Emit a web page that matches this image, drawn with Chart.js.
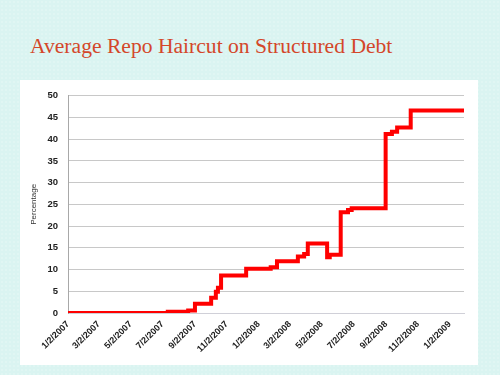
<!DOCTYPE html>
<html>
<head>
<meta charset="utf-8">
<script src="https://cdn.jsdelivr.net/npm/chart.js@4.4.1/dist/chart.umd.min.js"></script>
<style>
  html, body { margin: 0; padding: 0; }
  body {
    width: 500px;
    height: 375px;
    position: relative;
    overflow: hidden;
    background-color: #daf4f1;
    background-image: radial-gradient(rgba(255, 255, 255, 0.55) 0.5px, transparent 0.8px);
    background-size: 4px 4px;
  }
  #title {
    position: absolute;
    left: 30px;
    top: 34px;
    margin: 0;
    font-family: "Liberation Serif", "DejaVu Serif", serif;
    font-weight: normal;
    font-size: 21.6px;
    color: #d4472a;
    white-space: nowrap;
  }
  #panel {
    position: absolute;
    left: 20px;
    top: 80px;
    width: 458px;
    height: 285px;
    background: #ffffff;
  }
</style>
</head>
<body>
<h1 id="title">Average Repo Haircut on Structured Debt</h1>
<div id="panel"><canvas id="haircutChart"></canvas></div>
<script>
const startDate = "1/2/2007";
const endDate = "1/29/2009";

// dates where the haircut changes, and the new level (percent)
const changeDates = [
  "1/2/2007", "7/12/2007", "8/20/2007", "9/2/2007", "10/3/2007", "10/12/2007",
  "10/16/2007", "10/22/2007", "12/9/2007", "1/25/2008", "2/6/2008", "3/17/2008",
  "3/29/2008", "4/5/2008", "5/12/2008", "5/17/2008", "6/7/2008", "6/21/2008",
  "6/28/2008", "9/1/2008", "9/13/2008", "9/23/2008", "10/19/2008", "1/29/2009",
];
const haircutValues = [
  0.0, 0.3, 0.6, 2.1, 3.5, 4.9,
  5.8, 8.6, 10.2, 10.5, 11.9, 13.0,
  13.6, 16.0, 12.8, 13.4, 23.2, 23.7,
  24.1, 41.2, 41.7, 42.7, 46.6, 46.6,
];

const tickLabels = [
  "1/2/2007", "3/2/2007", "5/2/2007", "7/2/2007", "9/2/2007", "11/2/2007",
  "1/2/2008", "3/2/2008", "5/2/2008", "7/2/2008", "9/2/2008", "11/2/2008", "1/2/2009",
];
const yTicks = [0, 5, 10, 15, 20, 25, 30, 35, 40, 45, 50];

function toDay(text) {
  const [m, d, y] = text.split("/").map(Number);
  const [m0, d0, y0] = startDate.split("/").map(Number);
  return (Date.UTC(y, m - 1, d) - Date.UTC(y0, m0 - 1, d0)) / 86400000;
}

const points = changeDates.map((date, i) => ({ x: toDay(date), y: haircutValues[i] }));
const tickDays = tickLabels.map(toDay);

new Chart(document.getElementById("haircutChart"), {
  type: "line",
  data: {
    datasets: [{
      data: points,
      stepped: true,
      borderColor: "#ff0000",
      borderWidth: 4,
      pointRadius: 0,
      fill: false,
    }],
  },
  options: {
    responsive: true,
    maintainAspectRatio: false,
    animation: false,
    layout: { padding: { top: 7, right: 14, left: 0, bottom: 0 } },
    plugins: {
      legend: { display: false },
      tooltip: { enabled: false },
    },
    scales: {
      x: {
        type: "linear",
        min: 0,
        max: toDay(endDate),
        afterBuildTicks: (scale) => {
          scale.ticks = tickDays.map((value) => ({ value }));
        },
        afterFit: (scale) => { scale.height = 52; },
        ticks: {
          autoSkip: false,
          minRotation: 45,
          maxRotation: 45,
          padding: 6,
          color: "#222222",
          font: { family: "Liberation Sans", size: 9, weight: "bold" },
          callback: (value, index) => tickLabels[index],
        },
        grid: { display: false, drawTicks: false },
        border: { color: "#d0d0d8", width: 1 },
      },
      y: {
        min: 0,
        max: 50,
        afterBuildTicks: (scale) => {
          scale.ticks = yTicks.map((value) => ({ value }));
        },
        afterFit: (scale) => { scale.width = 48; },
        title: {
          display: true,
          text: "Percentage",
          color: "#333333",
          padding: { top: 9, bottom: 0 },
          font: { family: "Liberation Sans", size: 8 },
        },
        ticks: {
          padding: 10,
          color: "#222222",
          font: { family: "Liberation Sans", size: 9.5, weight: "bold" },
        },
        grid: { color: "#c8c8c8", lineWidth: 1, drawTicks: false },
        border: { color: "#a8a8a8", width: 1 },
      },
    },
  },
});
</script>
</body>
</html>
